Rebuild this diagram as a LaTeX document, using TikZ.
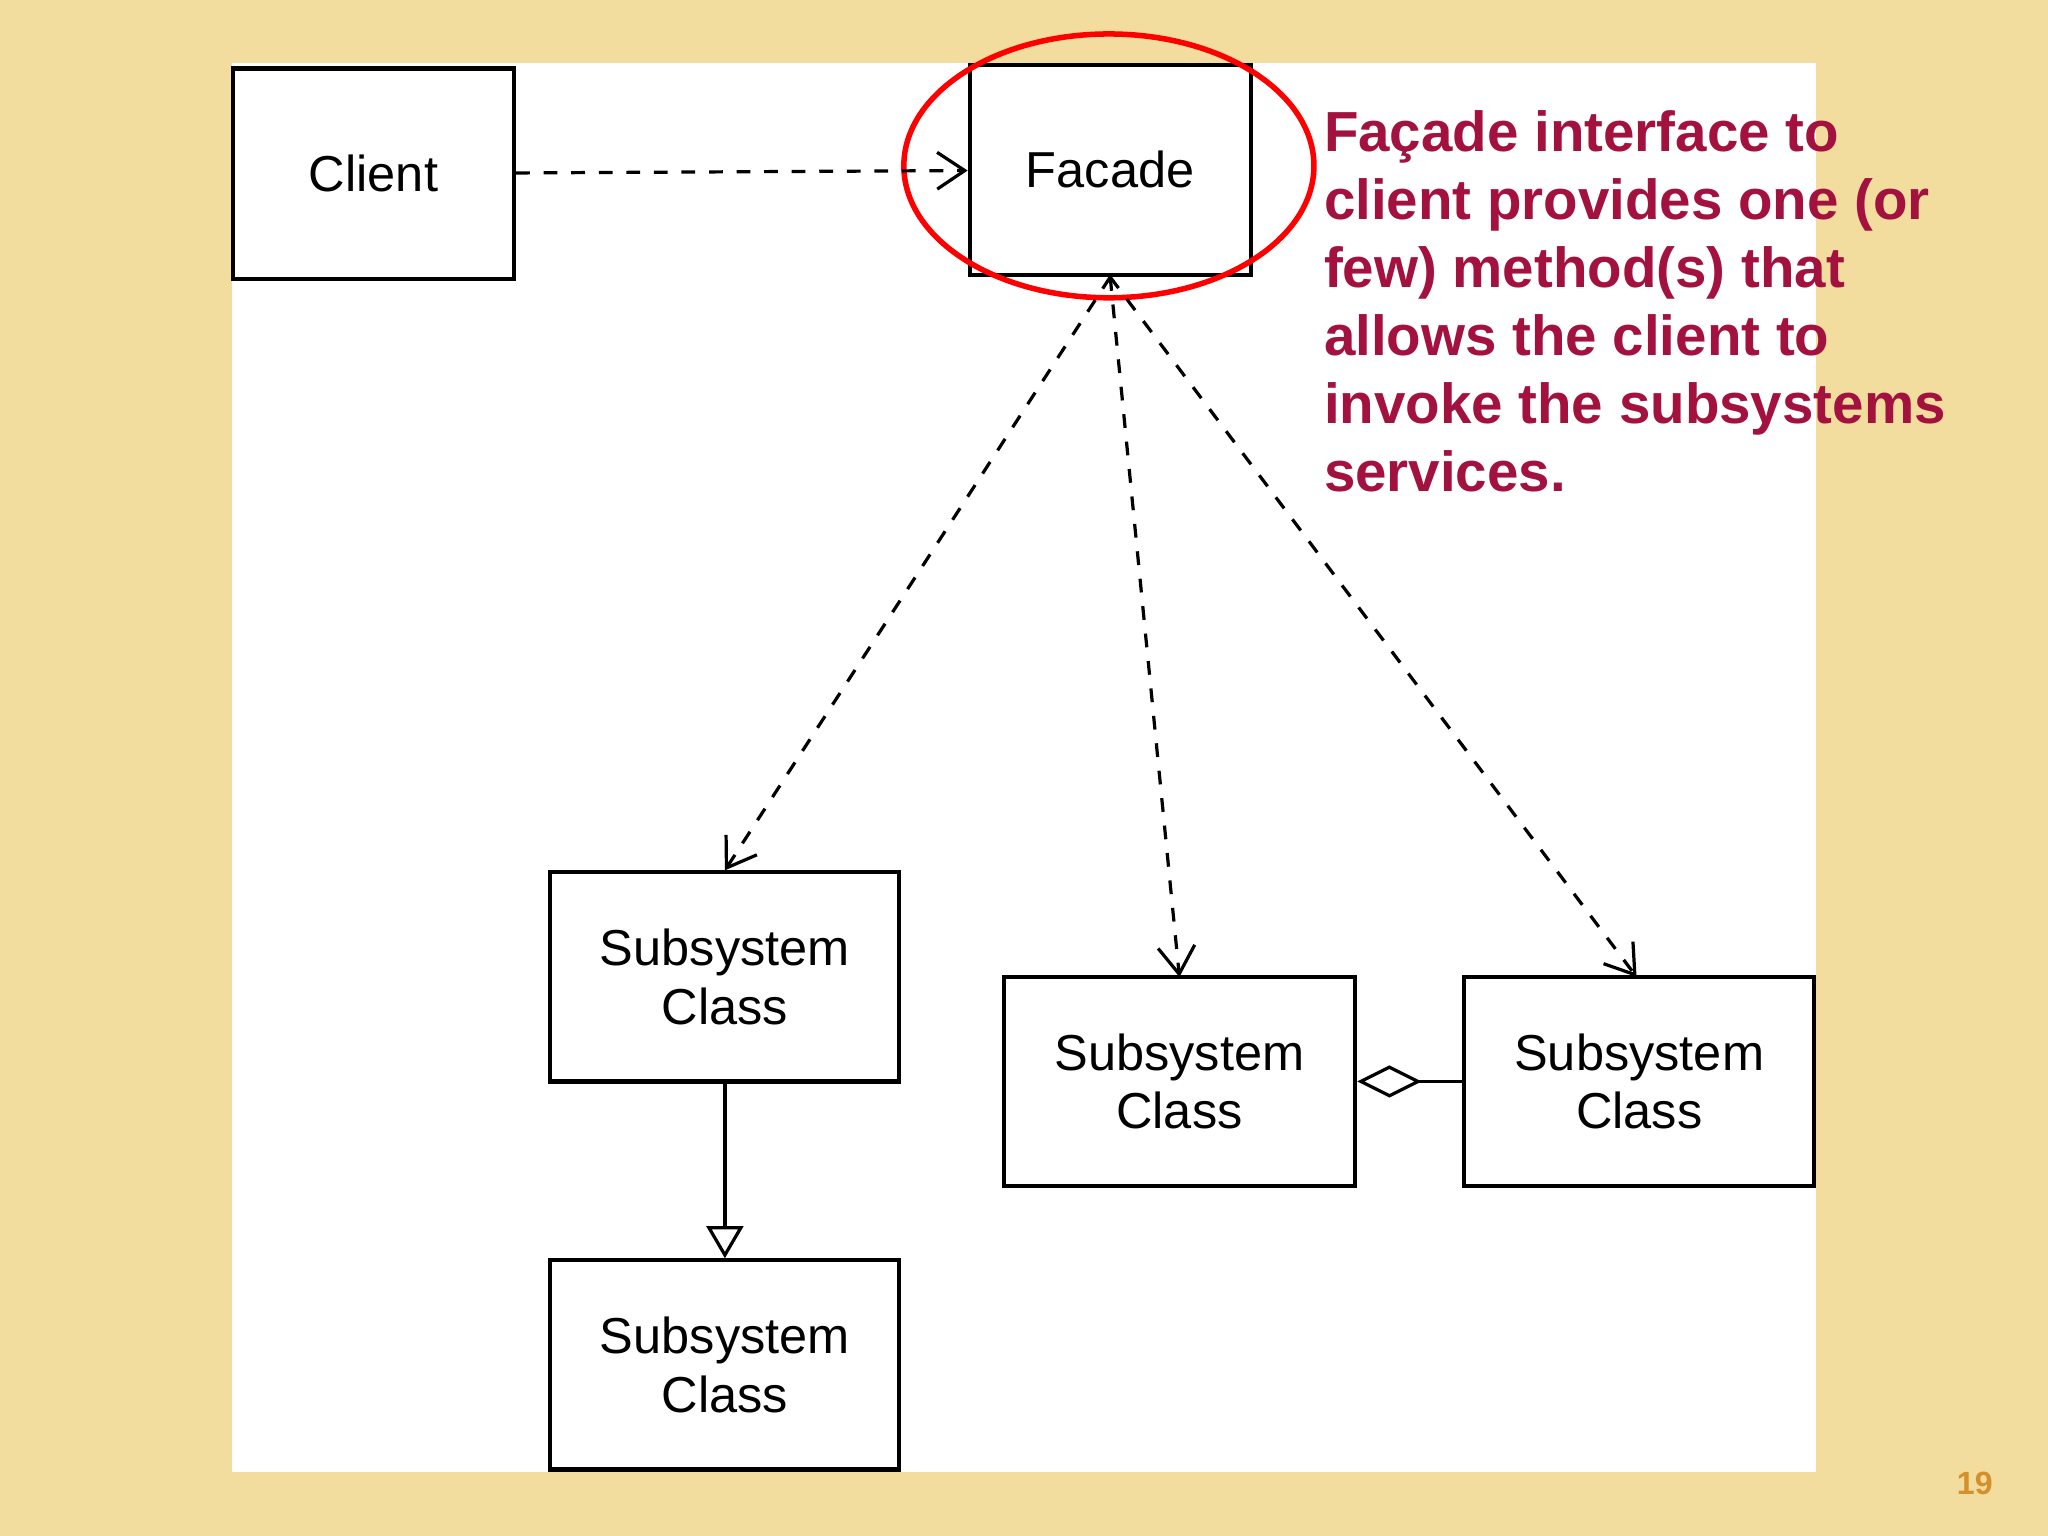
\documentclass[tikz,border=0pt]{standalone}
\usepackage{fontspec}
\setmainfont{Liberation Sans}
\usetikzlibrary{arrows.meta}
\definecolor{bgtan}{HTML}{F2DC9E}
\definecolor{notered}{HTML}{A3123F}
\definecolor{pagenum}{HTML}{D4902A}
\begin{document}
\begin{tikzpicture}[x=0.01cm,y=-0.01cm,
  box/.style={draw,line width=0.9pt,minimum width=#1,align=center,font=\fontsize{11}{12.8}\selectfont},
  box/.default=2.15cm,
  dep/.style={dashed,line width=0.7pt,-{Straight Barb[length=6pt,width=8pt]}},
  gen/.style={line width=0.7pt,-{Triangle[open,length=7pt,width=8pt]}},
  agg/.style={line width=0.7pt,-{Diamond[open,length=14pt,width=7pt]}}]
\useasboundingbox (0,0) rectangle (1568,1176);
\fill[bgtan] (0,0) rectangle (1568,1176);
\fill[white] (178,48) rectangle (1390,1127);
\node[box,minimum height=1.61cm] (client) at (286,133) {Client};
\node[box,minimum height=1.61cm] (facade) at (850,130) {Facade};
\node[box=2.67cm,minimum height=1.6cm] (s1) at (555,748) {Subsystem\\Class};
\node[box=2.67cm,minimum height=1.6cm] (s2) at (555,1045) {Subsystem\\Class};
\node[box=2.69cm,minimum height=1.6cm] (s3) at (903,828) {Subsystem\\Class};
\node[box=2.68cm,minimum height=1.6cm] (s4) at (1255,828) {Subsystem\\Class};
\draw[red,line width=1.2pt] (849,127) ellipse [x radius=157,y radius=101];
\draw[dep] (client) -- (facade);
\draw[dep] (facade.south) -- (s1.north);
\draw[dep] (facade.south) -- (903,748);
\draw[dep] (facade.south) -- (1253,748);
\draw[gen] (s1) -- (s2);
\draw[agg] (s4) -- (s3);
\node[anchor=north west,align=left,text=notered,font=\bfseries\fontsize{12.3}{14.8}\selectfont,inner sep=0pt] (note) at (1013,84)
  {Façade interface to\\client provides one (or\\few) method(s) that\\allows the client to\\invoke the subsystems\\services.};
\node[text=pagenum,font=\bfseries\fontsize{7}{8}\selectfont] (num) at (1512,1136) {19};
\end{tikzpicture}
\end{document}
